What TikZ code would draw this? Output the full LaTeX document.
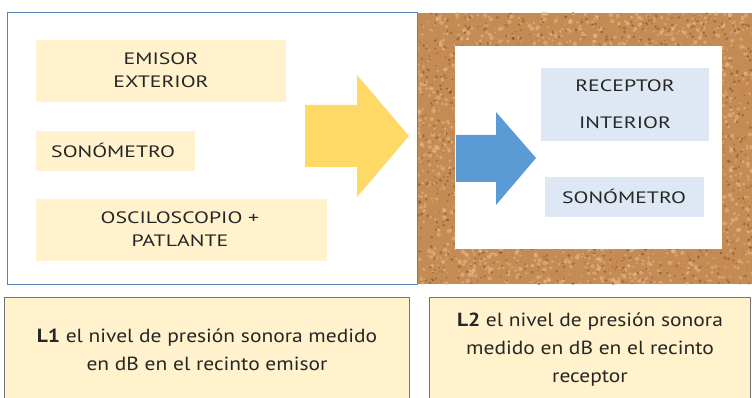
\documentclass[tikz,border=0pt]{standalone}
\usepackage{fontspec}
\setmainfont{PT Sans}
\newfontfamily\labfont[FakeStretch=1.32]{PT Sans}
\newfontfamily\notefont[FakeStretch=1.13]{PT Sans}
\definecolor{boxy}{HTML}{FFF2CC}
\definecolor{boxb}{HTML}{DDE8F4}
\definecolor{arry}{HTML}{FFD966}
\definecolor{arrb}{HTML}{5B9BD5}
\definecolor{frameb}{HTML}{5A82B4}
\definecolor{corkA}{HTML}{C48B55}
\definecolor{corkD}{HTML}{7A4218}
\definecolor{corkL}{HTML}{EDC08C}
\definecolor{txt}{HTML}{262626}
\tikzset{
  lab/.style={font=\labfont\fontsize{16.5}{23}\selectfont, text=txt, align=center, inner sep=0pt},
  note/.style={draw=black!55, line width=0.8pt, fill=boxy},
  notetext/.style={font=\notefont\fontsize{19}{28}\selectfont, text=txt, align=center, inner sep=0pt},
}
\begin{document}
\begin{tikzpicture}[x=1pt,y=-1pt]
\useasboundingbox (0,0) rectangle (752,398);
\fill[white] (0,0) rectangle (752,398);
% cork wall
\begin{scope}
\clip (417,13) rectangle (752,284);
\fill[corkA] (417,13) rectangle (752,284);
\pgfmathsetseed{7}
\foreach \i in {1,...,2200}{
  \pgfmathsetmacro\rx{417+335*rnd}\pgfmathsetmacro\ry{13+271*rnd}\pgfmathsetmacro\rr{0.8+1.5*rnd}
  \fill[corkL,opacity=0.5] (\rx,\ry) circle[radius=\rr];
}
\foreach \i in {1,...,1600}{
  \pgfmathsetmacro\rx{417+335*rnd}\pgfmathsetmacro\ry{13+271*rnd}\pgfmathsetmacro\rr{0.5+1.2*rnd}
  \fill[corkD,opacity=0.45] (\rx,\ry) circle[radius=\rr];
}
\end{scope}
% receiving room interior
\fill[white] (455,46) rectangle (722,249);
% emitting room
\draw[frameb, line width=1pt, fill=white] (7,13) rectangle (417,284);
% left boxes
\fill[boxy] (36,40) rectangle (286,102);
\node[lab] (emisor) at (161,70) {EMISOR\\EXTERIOR};
\fill[boxy] (36,131) rectangle (195,171);
\node[lab, anchor=west] (son1) at (51,150) {SONÓMETRO};
\fill[boxy] (36,199) rectangle (327,261);
\node[lab] (osc) at (180,229) {OSCILOSCOPIO +\\PATLANTE};
% arrows
\fill[arry] (305,105) -- (357,105) -- (357,75) -- (409,136) -- (357,197) -- (357,167) -- (305,167) -- cycle;
\fill[arrb] (456,135) -- (496,135) -- (496,112) -- (536,158) -- (496,205) -- (496,182) -- (456,182) -- cycle;
% right boxes
\fill[boxb] (541,68) rectangle (709,141);
\node[lab, font=\labfont\fontsize{16.5}{37}\selectfont] (rec) at (625,104) {RECEPTOR\\INTERIOR};
\fill[boxb] (545,177) rectangle (704,217);
\node[lab] (son2) at (624,196) {SONÓMETRO};
% bottom notes
\draw[note] (4,297) rectangle (409,402);
\node[notetext] (l1) at (207,350) {\textbf{L1} el nivel de presión sonora medido\\en dB en el recinto emisor};
\draw[note] (429,297) rectangle (750,402);
\node[notetext] (l2) at (590,350) {\textbf{L2} el nivel de presión sonora\\medido en dB en el recinto\\receptor};
\end{tikzpicture}
\end{document}
